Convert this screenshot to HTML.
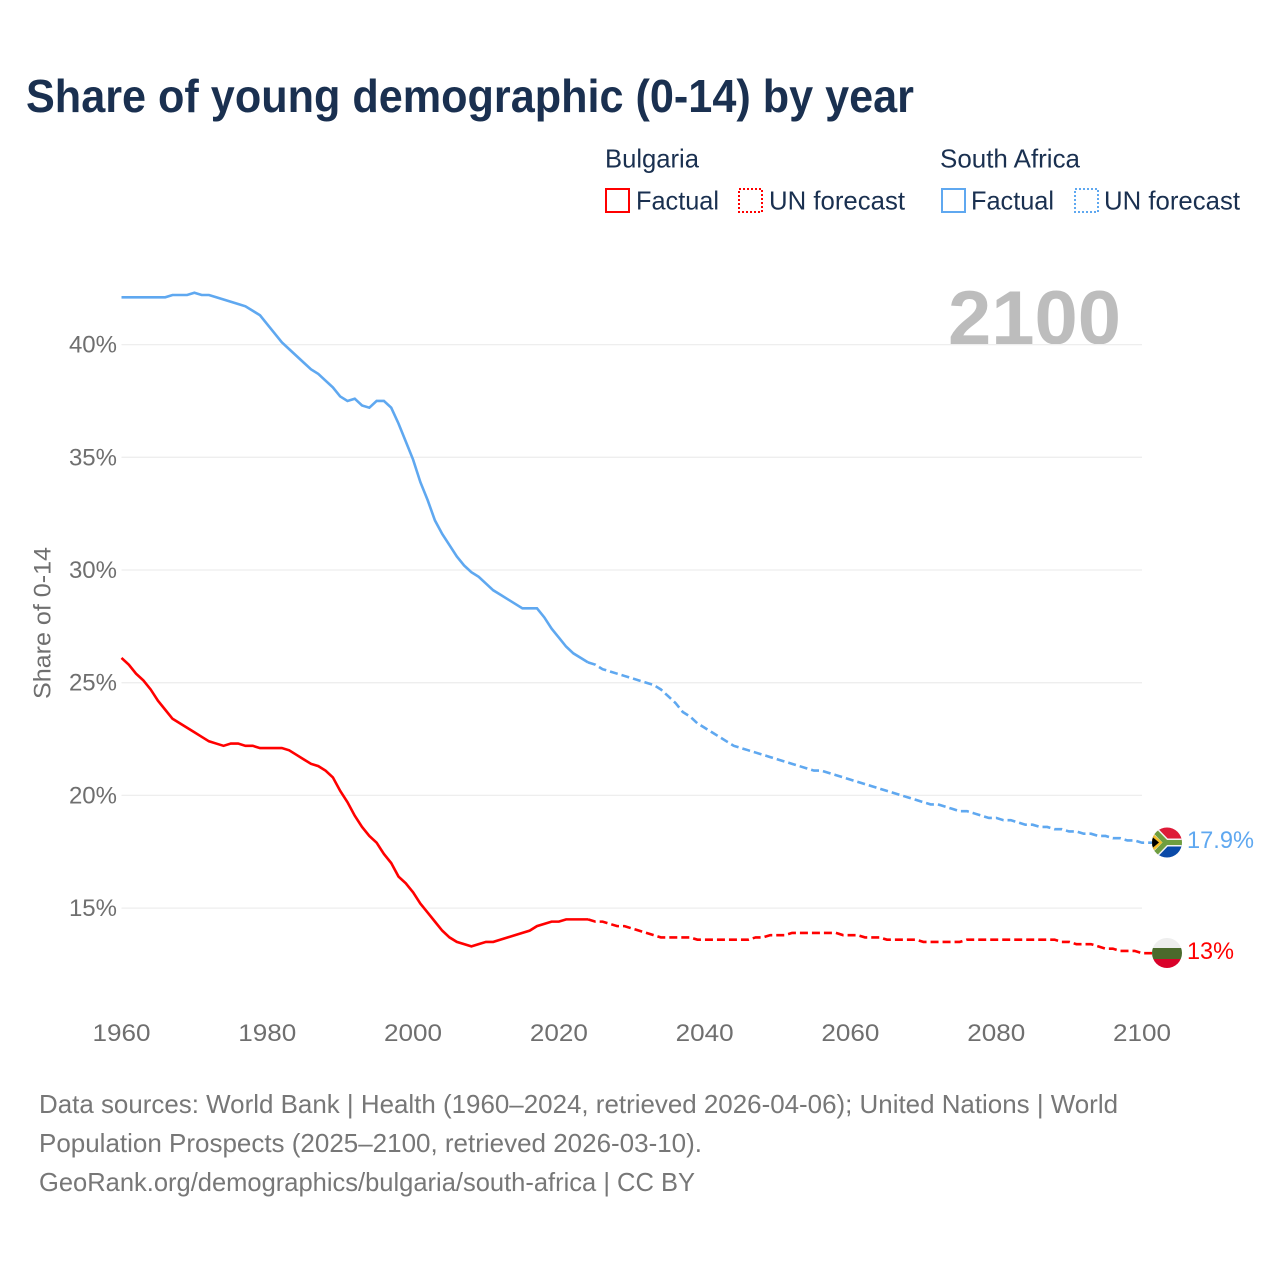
<!DOCTYPE html>
<html lang="en">
<head>
<meta charset="utf-8">
<title>Share of young demographic (0-14) by year</title>
<style>
html,body{margin:0;padding:0;background:#fff;}
svg{display:block;}
text{font-family:"Liberation Sans",sans-serif;}
</style>
</head>
<body>
<svg id="chart" xmlns="http://www.w3.org/2000/svg" width="1280" height="1280" viewBox="0 0 1280 1280">
  <defs>
    <clipPath id="clip-za"><circle cx="1167" cy="842.5" r="15"/></clipPath>
    <clipPath id="clip-bg"><circle cx="1167" cy="953" r="15"/></clipPath>
  </defs>
  <rect width="1280" height="1280" fill="#fff"/>

  <text x="26" y="112" font-size="46" font-weight="700" fill="#1a3050" textLength="888" lengthAdjust="spacingAndGlyphs">Share of young demographic (0-14) by year</text>

  <g font-size="26" fill="#1a3050">
    <text x="605" y="167.500" textLength="94" lengthAdjust="spacingAndGlyphs">Bulgaria</text>
    <text x="940" y="167.500" textLength="140" lengthAdjust="spacingAndGlyphs">South Africa</text>
    <rect x="606" y="189" width="23" height="23" fill="none" stroke="#ff0000" stroke-width="2"/>
    <text x="636" y="209.500" textLength="83" lengthAdjust="spacingAndGlyphs">Factual</text>
    <rect x="739" y="189" width="23" height="23" fill="none" stroke="#ff0000" stroke-width="2" stroke-dasharray="2 2"/>
    <text x="769" y="209.500" textLength="136" lengthAdjust="spacingAndGlyphs">UN forecast</text>
    <rect x="942" y="189" width="23" height="23" fill="none" stroke="#5fa8f0" stroke-width="2"/>
    <text x="971" y="209.500" textLength="83" lengthAdjust="spacingAndGlyphs">Factual</text>
    <rect x="1075" y="189" width="23" height="23" fill="none" stroke="#5fa8f0" stroke-width="2" stroke-dasharray="2 2"/>
    <text x="1104" y="209.500" textLength="136" lengthAdjust="spacingAndGlyphs">UN forecast</text>
  </g>

  <text x="948" y="344" font-size="76" font-weight="700" fill="#bdbdbd" textLength="173" lengthAdjust="spacingAndGlyphs">2100</text>

  <g id="grid"></g>
  <g id="y-axis" font-size="24" fill="#6f6f6f" text-anchor="end"></g>
  <g id="x-axis" font-size="24" fill="#6f6f6f" text-anchor="middle"></g>
  <text transform="translate(50.500 699) rotate(-90)" font-size="24" fill="#6f6f6f" textLength="152" lengthAdjust="spacingAndGlyphs">Share of 0-14</text>

  <g id="series"></g>

  <g clip-path="url(#clip-za)">
    <rect x="1150" y="826" width="34" height="17" fill="#de1a38"/>
    <rect x="1150" y="842.500" width="34" height="18" fill="#0a4aa8"/>
    <path d="M1150 826 L1166 842.500 L1150 859 Z" fill="#6f9e3f"/>
    <path d="M1148 824 L1166 842.500 L1186 842.500 M1148 861 L1166 842.500" fill="none" stroke="#f2f2f2" stroke-width="8"/>
    <path d="M1148 824 L1166 842.500 L1186 842.500 M1148 861 L1166 842.500" fill="none" stroke="#6f9e3f" stroke-width="5"/>
    <path d="M1150 831 L1162.500 842.500 L1150 854 Z" fill="#f5bf2a"/>
    <path d="M1150 835 L1159 842.500 L1150 850 Z" fill="#000"/>
  </g>
  <g clip-path="url(#clip-bg)">
    <rect x="1150" y="936" width="34" height="12" fill="#eeeeee"/>
    <rect x="1150" y="948" width="34" height="11" fill="#4a6a2c"/>
    <rect x="1150" y="959" width="34" height="12" fill="#d9022a"/>
  </g>
  <text id="label-za" x="1187" y="848" font-size="24" fill="#5fa8f0" textLength="67" lengthAdjust="spacingAndGlyphs"></text>
  <text id="label-bg" x="1187" y="959" font-size="24" fill="#ff0000" textLength="47" lengthAdjust="spacingAndGlyphs"></text>

  <g font-size="26" fill="#777777">
    <text x="39" y="1113" textLength="1079" lengthAdjust="spacingAndGlyphs">Data sources: World Bank | Health (1960–2024, retrieved 2026-04-06); United Nations | World</text>
    <text x="39" y="1152" textLength="663" lengthAdjust="spacingAndGlyphs">Population Prospects (2025–2100, retrieved 2026-03-10).</text>
    <text x="39" y="1191" textLength="656" lengthAdjust="spacingAndGlyphs">GeoRank.org/demographics/bulgaria/south-africa | CC BY</text>
  </g>
</svg>
<script>
const startYear = 1960;
const forecastStartYear = 2025;
const xTicks = [1960, 1980, 2000, 2020, 2040, 2060, 2080, 2100];
const yTicks = [15, 20, 25, 30, 35, 40];
const bulgariaFactual = [
  26.1,25.8,25.4,25.1,24.7,24.2,23.8,23.4,23.2,23.0,
  22.8,22.6,22.4,22.3,22.2,22.3,22.3,22.2,22.2,22.1,
  22.1,22.1,22.1,22.0,21.8,21.6,21.4,21.3,21.1,20.8,
  20.2,19.7,19.1,18.6,18.2,17.9,17.4,17.0,16.4,16.1,
  15.7,15.2,14.8,14.4,14.0,13.7,13.5,13.4,13.3,13.4,
  13.5,13.5,13.6,13.7,13.8,13.9,14.0,14.2,14.3,14.4,
  14.4,14.5,14.5,14.5,14.5
];
const bulgariaForecast = [
  14.4,14.4,14.3,14.2,14.2,14.1,14.0,13.9,13.8,13.7,
  13.7,13.7,13.7,13.7,13.6,13.6,13.6,13.6,13.6,13.6,
  13.6,13.6,13.7,13.7,13.8,13.8,13.8,13.9,13.9,13.9,
  13.9,13.9,13.9,13.9,13.8,13.8,13.8,13.7,13.7,13.7,
  13.6,13.6,13.6,13.6,13.6,13.5,13.5,13.5,13.5,13.5,
  13.5,13.6,13.6,13.6,13.6,13.6,13.6,13.6,13.6,13.6,
  13.6,13.6,13.6,13.6,13.5,13.5,13.4,13.4,13.4,13.3,
  13.2,13.2,13.1,13.1,13.1,13.0
];
const southAfricaFactual = [
  42.1,42.1,42.1,42.1,42.1,42.1,42.1,42.2,42.2,42.2,
  42.3,42.2,42.2,42.1,42.0,41.9,41.8,41.7,41.5,41.3,
  40.9,40.5,40.1,39.8,39.5,39.2,38.9,38.7,38.4,38.1,
  37.7,37.5,37.6,37.3,37.2,37.5,37.5,37.2,36.5,35.7,
  34.9,33.9,33.1,32.2,31.6,31.1,30.6,30.2,29.9,29.7,
  29.4,29.1,28.9,28.7,28.5,28.3,28.3,28.3,27.9,27.4,
  27.0,26.6,26.3,26.1,25.9
];
const southAfricaForecast = [
  25.8,25.6,25.5,25.4,25.3,25.2,25.1,25.0,24.9,24.7,
  24.4,24.1,23.7,23.5,23.2,23.0,22.8,22.6,22.4,22.2,
  22.1,22.0,21.9,21.8,21.7,21.6,21.5,21.4,21.3,21.2,
  21.1,21.1,21.0,20.9,20.8,20.7,20.6,20.5,20.4,20.3,
  20.2,20.1,20.0,19.9,19.8,19.7,19.6,19.6,19.5,19.4,
  19.3,19.3,19.2,19.1,19.0,19.0,18.9,18.9,18.8,18.7,
  18.7,18.6,18.6,18.5,18.5,18.4,18.4,18.3,18.3,18.2,
  18.2,18.1,18.1,18.0,18.0,17.9
];

const NS = 'http://www.w3.org/2000/svg';
function xScale(year) { return 121.5 + (year - 1960) * (1142 - 121.5) / 140; }
function yScale(v) { return 344.6 + (40 - v) * 22.54; }

const gridGroup = document.getElementById('grid');
const yGroup = document.getElementById('y-axis');
yTicks.forEach(function (t) {
  const line = document.createElementNS(NS, 'line');
  
  
  line.setAttribute('x1', xScale(1960));
  line.setAttribute('x2', xScale(2100));
  line.setAttribute('y1', yScale(t));
  line.setAttribute('y2', yScale(t));
  line.setAttribute('stroke', '#eeeeee');
  line.setAttribute('stroke-width', '1.3');
  gridGroup.appendChild(line);
  const label = document.createElementNS(NS, 'text');
  
  
  label.setAttribute('x', 117);
  label.setAttribute('y', yScale(t) + 8);
  label.textContent = t + '%';
  yGroup.appendChild(label);
});

const xGroup = document.getElementById('x-axis');
xTicks.forEach(function (t) {
  const label = document.createElementNS(NS, 'text');
  
  
  label.setAttribute('x', xScale(t));
  label.setAttribute('y', 1041);
  label.setAttribute('textLength', '58');
  label.setAttribute('lengthAdjust', 'spacingAndGlyphs');
  label.textContent = t;
  xGroup.appendChild(label);
});

function pathFrom(values, firstYear, prefix) {
  const pts = prefix ? [prefix] : [];
  values.forEach(function (v, i) {
    pts.push([xScale(firstYear + i), yScale(v)]);
  });
  return pts.map(function (p, i) {
    return (i ? 'L' : 'M') + p[0].toFixed(2) + ' ' + p[1].toFixed(2);
  }).join(' ');
}

const seriesGroup = document.getElementById('series');

const bgForecastPath = document.createElementNS(NS, 'path');


bgForecastPath.setAttribute('d', pathFrom(bulgariaForecast, forecastStartYear, [xScale(forecastStartYear - 1), yScale(bulgariaFactual[bulgariaFactual.length - 1])]) + ' L1152 ' + yScale(bulgariaForecast[bulgariaForecast.length - 1]).toFixed(2));
bgForecastPath.setAttribute('fill', 'none');
bgForecastPath.setAttribute('stroke', '#ff0000');
bgForecastPath.setAttribute('stroke-width', '2.6');
bgForecastPath.setAttribute('stroke-dasharray', '8 4');
seriesGroup.appendChild(bgForecastPath);

const bgFactualPath = document.createElementNS(NS, 'path');


bgFactualPath.setAttribute('d', pathFrom(bulgariaFactual, startYear));
bgFactualPath.setAttribute('fill', 'none');
bgFactualPath.setAttribute('stroke', '#ff0000');
bgFactualPath.setAttribute('stroke-width', '2.6');
seriesGroup.appendChild(bgFactualPath);

const zaForecastPath = document.createElementNS(NS, 'path');


zaForecastPath.setAttribute('d', pathFrom(southAfricaForecast, forecastStartYear, [xScale(forecastStartYear - 1), yScale(southAfricaFactual[southAfricaFactual.length - 1])]) + ' L1152 ' + yScale(southAfricaForecast[southAfricaForecast.length - 1]).toFixed(2));
zaForecastPath.setAttribute('fill', 'none');
zaForecastPath.setAttribute('stroke', '#5fa8f0');
zaForecastPath.setAttribute('stroke-width', '2.6');
zaForecastPath.setAttribute('stroke-dasharray', '8 4');
seriesGroup.appendChild(zaForecastPath);

const zaFactualPath = document.createElementNS(NS, 'path');


zaFactualPath.setAttribute('d', pathFrom(southAfricaFactual, startYear));
zaFactualPath.setAttribute('fill', 'none');
zaFactualPath.setAttribute('stroke', '#5fa8f0');
zaFactualPath.setAttribute('stroke-width', '2.6');
seriesGroup.appendChild(zaFactualPath);

document.getElementById('label-za').textContent = southAfricaForecast[southAfricaForecast.length - 1].toFixed(1) + '%';
document.getElementById('label-bg').textContent = String(Number(bulgariaForecast[bulgariaForecast.length - 1])) + '%';
</script>
</body>
</html>
